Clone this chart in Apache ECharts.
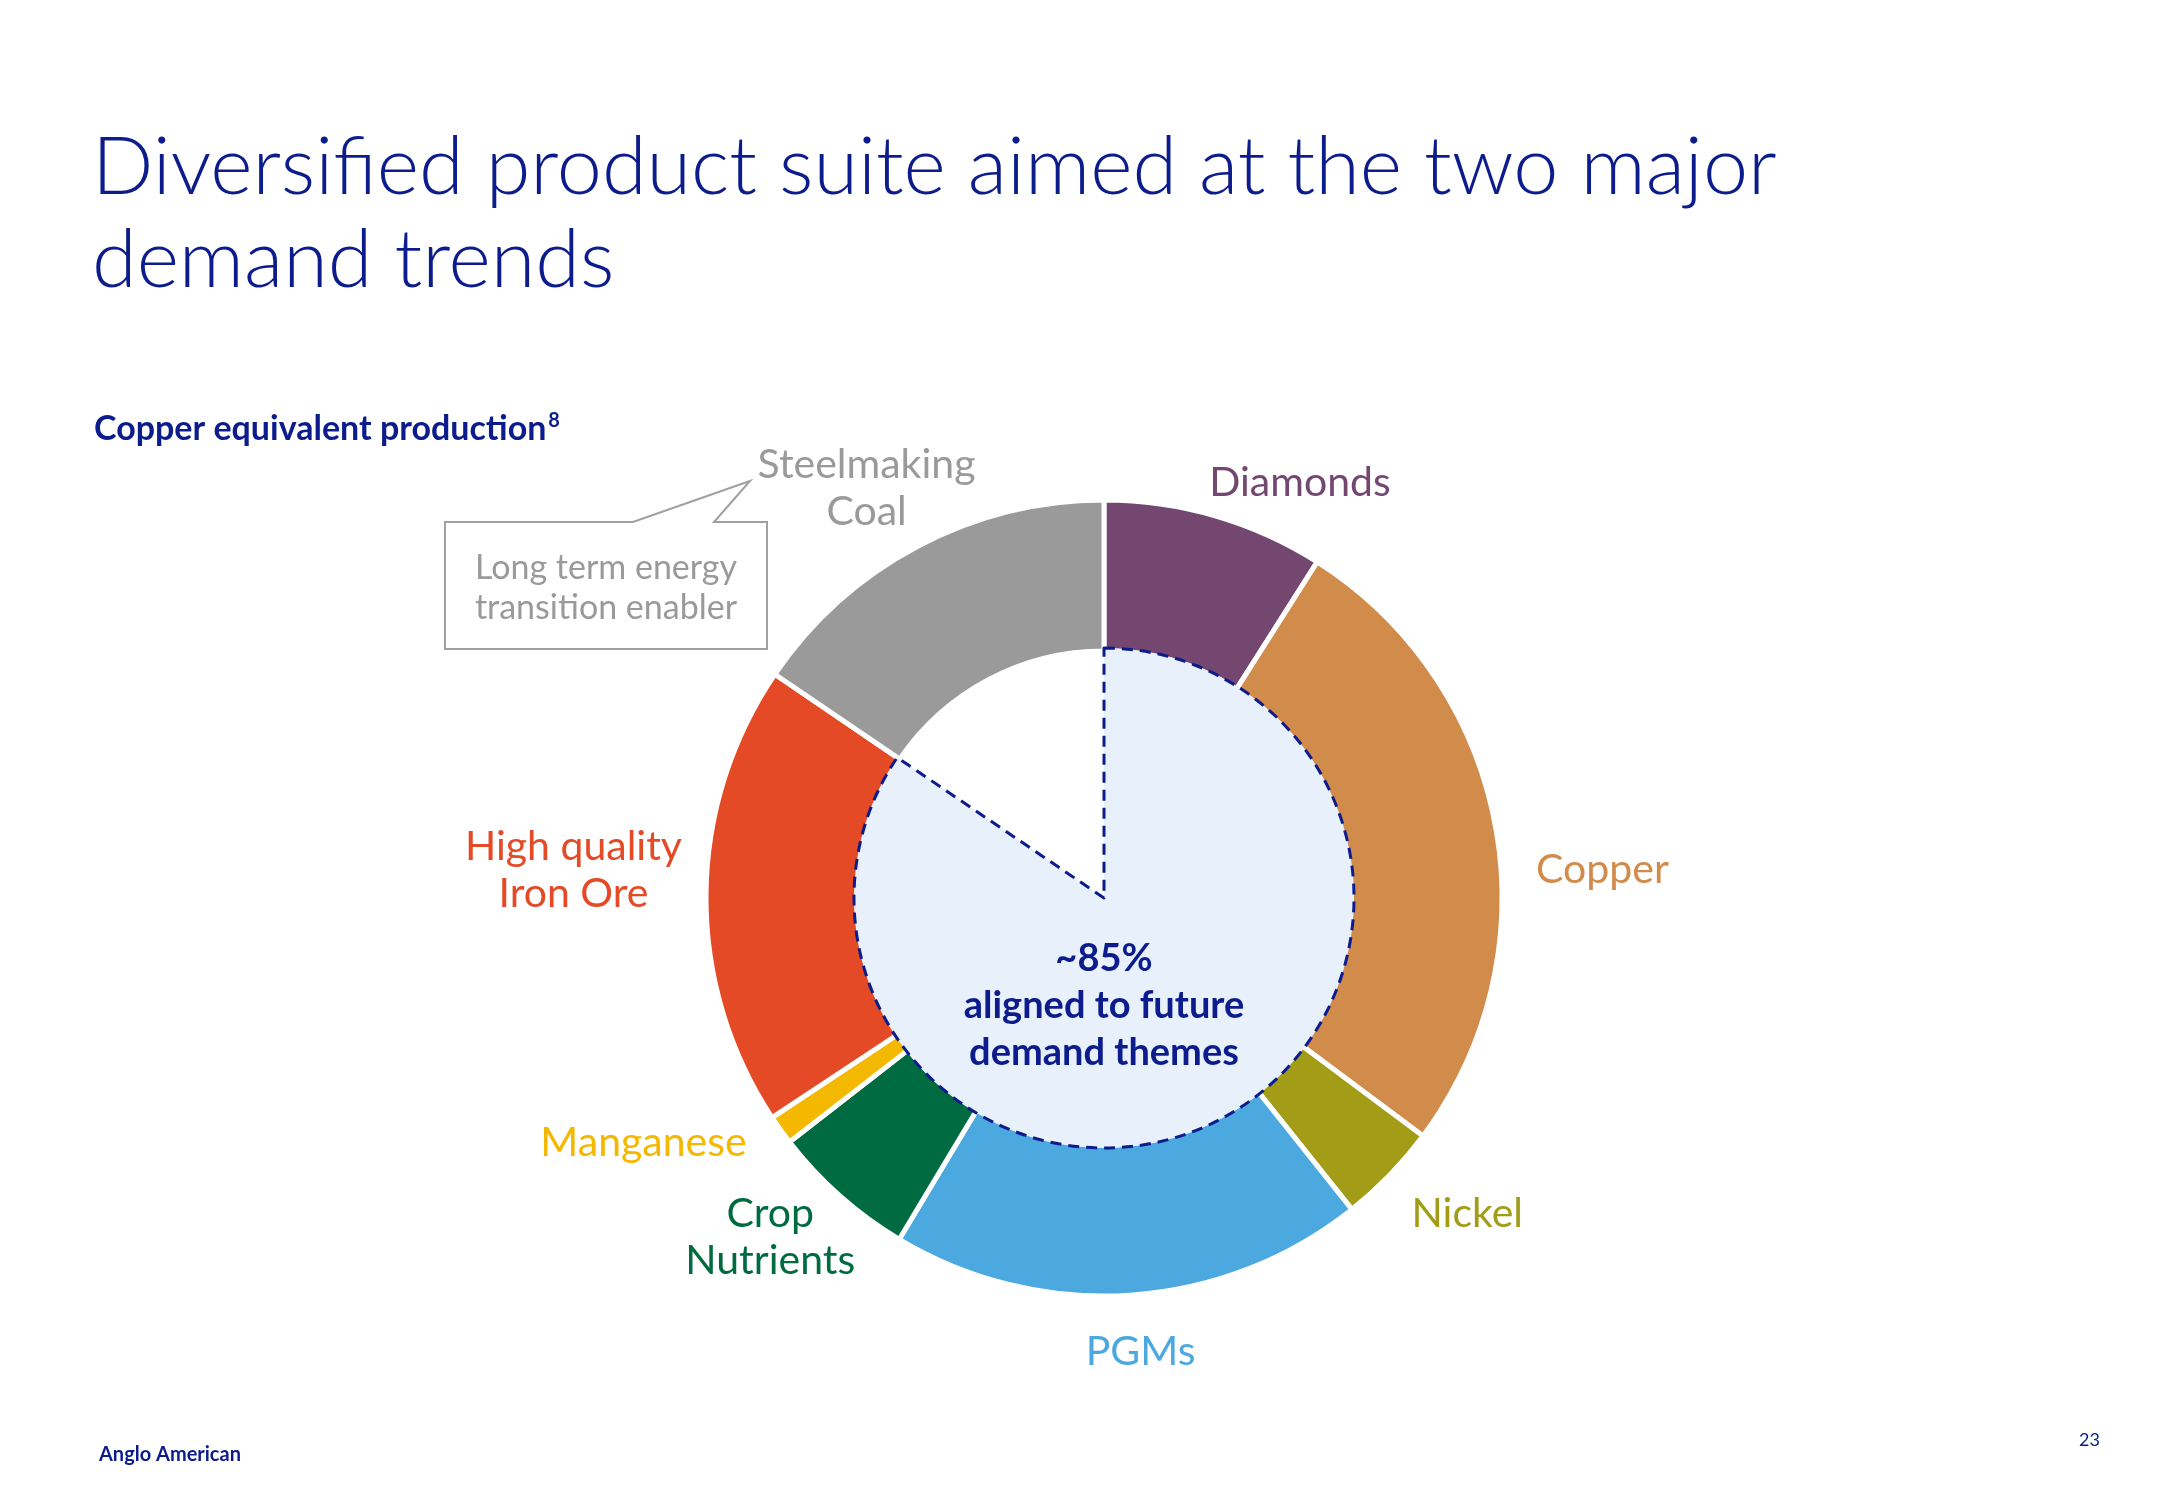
<!DOCTYPE html>
<html>
<head>
<meta charset="utf-8">
<script src="https://cdn.jsdelivr.net/npm/echarts@6/dist/echarts.min.js"></script>
<style>
html,body{margin:0;padding:0;background:#fff;}
#chart{width:2166px;height:1500px;}
</style>
</head>
<body>
<div id="chart"></div>
<script>
// ---- data ----
const categories = ['Diamonds', 'Copper', 'Nickel', 'PGMs', 'Crop Nutrients', 'Manganese', 'High quality Iron Ore', 'Steelmaking Coal'];
const labelTexts = ['Diamonds', 'Copper', 'Nickel', 'PGMs', 'Crop\nNutrients', 'Manganese', 'High quality\nIron Ore', 'Steelmaking\nCoal'];
const shares = [9.0, 26.2, 4.1, 19.3, 5.9, 1.2, 18.8, 15.5];
const colors = ['#744770', '#d18b4b', '#a29c16', '#4ca9df', '#006b40', '#f5b800', '#e44a26', '#9a9a9a'];
const futureThemes = ['Diamonds', 'Copper', 'Nickel', 'PGMs', 'Crop Nutrients', 'Manganese', 'High quality Iron Ore'];
const centerText = ['~85%', 'aligned to future', 'demand themes'];
const labelNudge = [[-17, -12], [14, 48], [1, 23], [-51, 35], [35, 25], [-11, 0], [3, -25], [73, -39]];

const NAVY = '#0c1c8c';
const alignedShare = shares.reduce((s, v, i) => s + (futureThemes.includes(categories[i]) ? v : 0), 0);
const otherShare = shares.reduce((s, v) => s + v, 0) - alignedShare;

const chart = echarts.init(document.getElementById('chart'), null, {renderer: 'canvas'});
const CX = 1104, CY = 898;

const option = {
  animation: false,
  backgroundColor: '#ffffff',
  title: [{
    text: 'Diversified product suite aimed at the two major\ndemand trends',
    left: 87, top: 116,
    textStyle: {fontFamily: 'Lato', fontWeight: 300, fontSize: 81, lineHeight: 93, color: NAVY}
  }, {
    text: 'Copper equivalent production{sup|8}',
    left: 89, top: 406,
    textStyle: {fontFamily: 'Lato', fontWeight: 'bold', fontSize: 34, color: NAVY,
      rich: {sup: {fontFamily: 'Lato', fontSize: 20, color: NAVY, verticalAlign: 'top', padding: [0, 0, 16, 2]}}}
  }],
  series: [{
    type: 'pie',
    center: [CX, CY],
    radius: [247, 398],
    startAngle: 90,
    clockwise: true,
    avoidLabelOverlap: false,
    silent: true,
    itemStyle: {borderColor: '#ffffff', borderWidth: 5},
    label: {
      show: true,
      position: 'outside',
      fontFamily: 'Lato',
      fontSize: 41,
      lineHeight: 47,
      formatter: p => labelTexts[p.dataIndex]
    },
    labelLine: {show: false, length: 22, length2: 0},
    labelLayout: function (p) {
      const n = labelNudge[p.dataIndex];
      return {
        x: p.labelRect.x + p.labelRect.width / 2 + n[0],
        y: p.labelRect.y + p.labelRect.height / 2 + n[1],
        align: 'center',
        verticalAlign: 'middle'
      };
    },
    data: categories.map((c, i) => ({
      name: c, value: shares[i],
      itemStyle: {color: colors[i]},
      label: {color: colors[i]}
    }))
  }, {
    type: 'pie',
    center: [CX, CY],
    radius: [0, 250],
    startAngle: 90,
    clockwise: true,
    silent: true,
    z: 5,
    label: {show: false},
    labelLine: {show: false},
    data: [
      {name: 'aligned', value: alignedShare,
        itemStyle: {color: '#e8f0fb', borderColor: '#0c1c8c', borderWidth: 3, borderType: [11, 7]}},
      {name: 'other', value: otherShare,
        itemStyle: {color: 'rgba(0,0,0,0)', borderWidth: 0}}
    ]
  }],
  graphic: [
    {
      type: 'polygon',
      silent: true,
      shape: {points: [[445, 522], [633, 522], [750, 481], [714, 522], [767, 522], [767, 649], [445, 649]]},
      style: {fill: '#ffffff', stroke: '#a0a0a0', lineWidth: 2}
    },
    {
      type: 'text', silent: true, x: 606, y: 588,
      style: {text: 'Long term energy\ntransition enabler', fill: '#9a9a9a', font: '34px Lato',
        lineHeight: 40, align: 'center', verticalAlign: 'middle'}
    },
    {
      type: 'text', silent: true, x: CX, y: 1006, z: 10,
      style: {text: centerText.join('\n'), fill: NAVY, font: 'bold 38px Lato',
        lineHeight: 47, align: 'center', verticalAlign: 'middle'}
    },
    {
      type: 'text', silent: true, x: 99, y: 1455,
      style: {text: 'Anglo American', fill: NAVY, font: 'bold 20px Lato', verticalAlign: 'middle'}
    },
    {
      type: 'text', silent: true, x: 2100, y: 1440,
      style: {text: '23', fill: NAVY, font: '18px Lato', align: 'right', verticalAlign: 'middle'}
    }
  ]
};
chart.setOption(option);
</script>
</body>
</html>
